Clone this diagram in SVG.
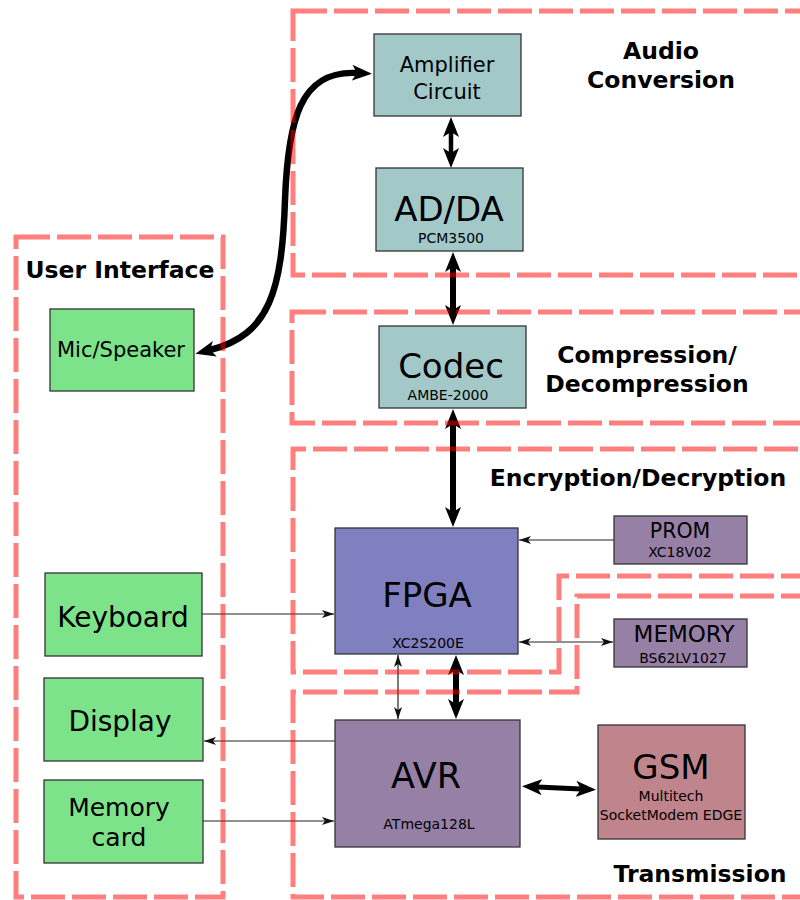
<svg xmlns="http://www.w3.org/2000/svg" width="800" height="900" viewBox="0 0 800 900">
  <style>
    text { font-family: "DejaVu Sans", Verdana, sans-serif; fill: #000; text-anchor: middle; }
    .title { font-weight: bold; font-size: 23.5px; }
    .small { font-size: 14px; }
    .big { font-size: 34px; }
    .node rect { stroke: #333; stroke-width: 1.3; }
    .teal { fill: #a2c8c8; }
    .green { fill: #7ce38a; }
    .blue { fill: #8080c0; }
    .violet { fill: #9680a6; }
    .rose { fill: #c0848c; }
    .region { fill: none; stroke: #ff0000; stroke-opacity: 0.5; stroke-width: 5; stroke-dasharray: 34 7; }
    .heavy { fill: none; stroke: #000; stroke-linecap: butt; }
    .thin { fill: none; stroke: #222; stroke-width: 1.2; }
  </style>
  <defs>
    <marker id="headBig" viewBox="0 0 20 16" refX="5" refY="8" markerWidth="20" markerHeight="16" markerUnits="userSpaceOnUse" orient="auto-start-reverse">
      <path d="M0,0 L20,8 L0,16 L5,8 z" fill="#000"/>
    </marker>
    <marker id="headSmall" viewBox="0 0 12 8" refX="12" refY="4" markerWidth="12" markerHeight="8" markerUnits="userSpaceOnUse" orient="auto-start-reverse">
      <path d="M0,0 L12,4 L0,8 L3,4 z" fill="#111"/>
    </marker>
  </defs>

  <rect width="800" height="900" fill="#fff"/>

  <!-- connectors -->
  <g id="connectors">
    <path class="heavy" stroke-width="6.5" d="M357,73 C300,70 288,120 285,200 C282,290 270,335 210,350" marker-start="url(#headBig)" marker-end="url(#headBig)"/>
    <path class="heavy" stroke-width="4.5" d="M451,132 L451,153" marker-start="url(#headBig)" marker-end="url(#headBig)"/>
    <path class="heavy" stroke-width="6" d="M453,267 L453,310" marker-start="url(#headBig)" marker-end="url(#headBig)"/>
    <path class="heavy" stroke-width="6" d="M453,424 L453,512" marker-start="url(#headBig)" marker-end="url(#headBig)"/>
    <path class="heavy" stroke-width="6" d="M456,670 L456,704" marker-start="url(#headBig)" marker-end="url(#headBig)"/>
    <path class="heavy" stroke-width="5" d="M537,787 L581,789" marker-start="url(#headBig)" marker-end="url(#headBig)"/>
    <path class="thin" d="M202,614 L334,614" marker-end="url(#headSmall)"/>
    <path class="thin" d="M614,540 L519,540" marker-end="url(#headSmall)"/>
    <path class="thin" d="M519,642 L613,642" marker-start="url(#headSmall)" marker-end="url(#headSmall)"/>
    <path class="thin" d="M398,655 L398,719" marker-start="url(#headSmall)" marker-end="url(#headSmall)"/>
    <path class="thin" d="M335,741 L204,741" marker-end="url(#headSmall)"/>
    <path class="thin" d="M203,821 L334,821" marker-end="url(#headSmall)"/>
  </g>

  <!-- nodes -->
  <g id="amplifier" class="node">
    <rect class="teal" x="374" y="34" width="147" height="82"/>
    <text x="447" y="72" font-size="21">Amplifier</text>
    <text x="447" y="99" font-size="21">Circuit</text>
  </g>
  <g id="adda" class="node">
    <rect class="teal" x="376" y="168" width="147" height="83"/>
    <text class="big" x="449" y="221">AD/DA</text>
    <text class="small" x="451" y="243">PCM3500</text>
  </g>
  <g id="codec" class="node">
    <rect class="teal" x="379" y="326" width="147" height="82"/>
    <text class="big" x="451" y="378">Codec</text>
    <text class="small" x="448" y="400">AMBE-2000</text>
  </g>
  <g id="mic-speaker" class="node">
    <rect class="green" x="50" y="309" width="144" height="82"/>
    <text x="121" y="357" font-size="21">Mic/Speaker</text>
  </g>
  <g id="fpga" class="node">
    <rect class="blue" x="335" y="528" width="183" height="126"/>
    <text class="big" x="427" y="607">FPGA</text>
    <text class="small" x="428" y="648">XC2S200E</text>
  </g>
  <g id="prom" class="node">
    <rect class="violet" x="614" y="516" width="133" height="48"/>
    <text x="680" y="538" font-size="20.5">PROM</text>
    <text class="small" x="680" y="557">XC18V02</text>
  </g>
  <g id="memory" class="node">
    <rect class="violet" x="614" y="619" width="133" height="48"/>
    <text x="684" y="642" font-size="23">MEMORY</text>
    <text class="small" x="683" y="663">BS62LV1027</text>
  </g>
  <g id="keyboard" class="node">
    <rect class="green" x="45" y="573" width="157" height="83"/>
    <text x="123" y="627" font-size="28">Keyboard</text>
  </g>
  <g id="display" class="node">
    <rect class="green" x="44" y="678" width="159" height="83"/>
    <text x="120" y="731" font-size="28">Display</text>
  </g>
  <g id="memory-card" class="node">
    <rect class="green" x="44" y="780" width="159" height="83"/>
    <text x="119" y="816" font-size="25">Memory</text>
    <text x="119" y="846" font-size="25">card</text>
  </g>
  <g id="avr" class="node">
    <rect class="violet" x="335" y="720" width="185" height="127"/>
    <text x="426" y="788" font-size="35">AVR</text>
    <text class="small" x="429" y="829">ATmega128L</text>
  </g>
  <g id="gsm" class="node">
    <rect class="rose" x="598" y="725" width="147" height="114"/>
    <text class="big" x="671" y="779">GSM</text>
    <text class="small" x="671" y="801">Multitech</text>
    <text class="small" x="671" y="820">SocketModem EDGE</text>
  </g>

  <!-- functional regions -->
  <g id="regions">
    <rect class="region" x="293" y="11" width="530" height="264"/>
    <rect class="region" x="292" y="312" width="530" height="111"/>
    <path class="region" d="M815,576 L559,576 L559,672 L293,672 L293,449 L815,449"/>
    <path class="region" d="M815,596 L577,596 L577,692 L293,692 L293,897 L815,897"/>
    <rect class="region" x="16" y="237" width="207" height="660"/>
  </g>

  <g id="region-labels">
    <text class="title" x="661" y="59">Audio</text>
    <text class="title" x="661" y="88">Conversion</text>
    <text class="title" x="120" y="278">User Interface</text>
    <text class="title" x="647" y="363">Compression/</text>
    <text class="title" x="647" y="392">Decompression</text>
    <text class="title" x="638" y="486">Encryption/Decryption</text>
    <text class="title" x="700" y="882">Transmission</text>
  </g>
</svg>
